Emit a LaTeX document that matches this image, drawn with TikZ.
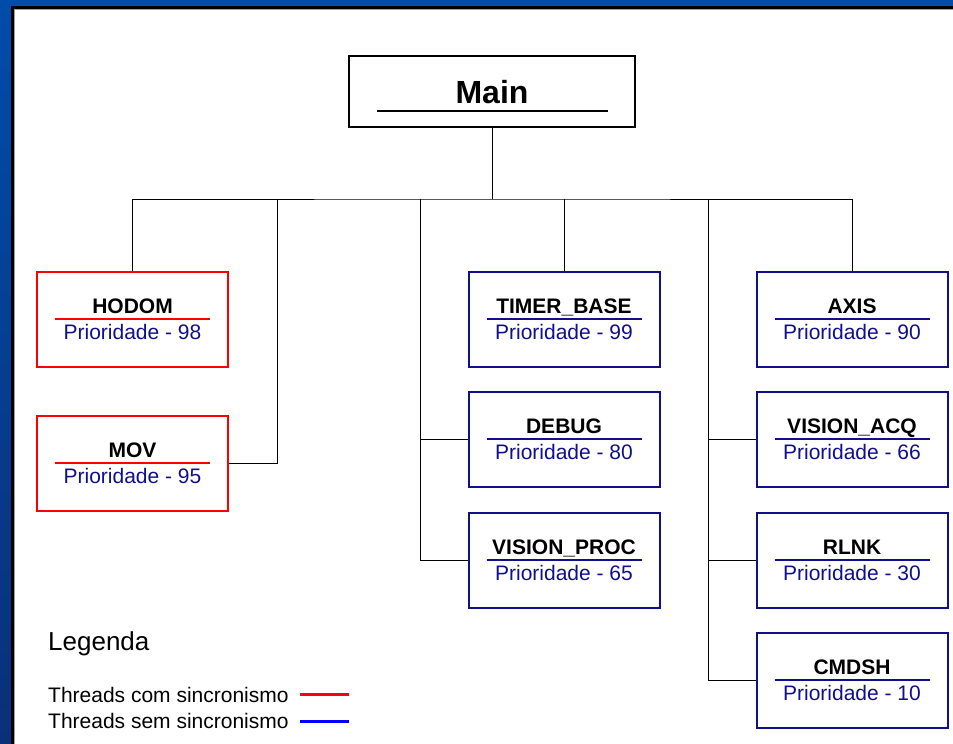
\documentclass[tikz,border=0pt]{standalone}
\usepackage{fontspec}
\setmainfont{Liberation Sans}
\definecolor{slideblue}{RGB}{0,76,170}
\definecolor{slidemid}{RGB}{2,70,158}
\definecolor{slidedark}{RGB}{10,48,120}
\definecolor{navyb}{RGB}{16,16,140}
\definecolor{syncred}{RGB}{255,0,0}
\definecolor{edgegray}{RGB}{160,160,160}
\tikzset{
  threadbox/.style={draw, line width=2pt, minimum width=191pt, minimum height=95pt, inner sep=0pt},
  mainbox/.style={draw=black, line width=2pt, minimum width=286pt, minimum height=71pt, inner sep=0pt},
  ttl/.style={font=\fontsize{21}{24}\selectfont\bfseries, inner sep=0pt, anchor=base},
  prio/.style={font=\fontsize{21}{24}\selectfont, text=navyb, inner sep=0pt, anchor=base},
  legtext/.style={font=\fontsize{21}{24}\selectfont, inner sep=0pt, anchor=base west},
  wire/.style={draw=black, line width=1pt},
}
% thread box: name, x centre, y top, colour, title, priority
\newcommand\tbox[6]{%
  \node[threadbox, draw=#4] (#1) at (#2,#3+48) {};
  \node[ttl] (#1-t) at (#2,#3+42) {#5};
  \draw[#4, line width=2pt] (#2-77.5,#3+48) -- (#2+77.5,#3+48);
  \node[prio] (#1-p) at (#2,#3+68) {Prioridade - #6};
}
\begin{document}
\begin{tikzpicture}[x=1pt,y=-1pt]
  \useasboundingbox (0,0) rectangle (953,744);
  % slide frame
  \fill[white] (0,0) rectangle (953,744);
  \shade[top color=slideblue, middle color=slidemid, bottom color=slidedark] (0,0) rectangle (11,744);
  \fill[slideblue] (0,0) rectangle (953,6);
  \fill[black] (11,6) rectangle (953,9);
  \fill[black] (11,6) rectangle (14,744);
  \fill[edgegray] (14,9) rectangle (953,10);
  \fill[edgegray] (14,9) rectangle (15,744);

  % main task
  \node[mainbox] (main) at (492,91.5) {};
  \node[font=\fontsize{32}{36}\selectfont\bfseries, inner sep=0pt, anchor=base] (main-t) at (492,103) {Main};
  \draw[black, line width=2pt] (377,111) -- (608,111);

  % threads
  \tbox{hodom}{132.5}{271}{syncred}{HODOM}{98}
  \tbox{mov}{132.5}{415}{syncred}{MOV}{95}
  \tbox{tbase}{564}{271}{navyb}{TIMER\_BASE}{99}
  \tbox{debug}{564}{391}{navyb}{DEBUG}{80}
  \tbox{vproc}{564}{512}{navyb}{VISION\_PROC}{65}
  \tbox{axis}{852}{271}{navyb}{AXIS}{90}
  \tbox{vacq}{852}{391}{navyb}{VISION\_ACQ}{66}
  \tbox{rlnk}{852}{512}{navyb}{RLNK}{30}
  \tbox{cmdsh}{852}{632}{navyb}{CMDSH}{10}

  % bus junctions
  \coordinate (bus) at (492,199);
  \coordinate (jmov) at (277,199);
  \coordinate (jmid) at (420,199);
  \coordinate (jright) at (708,199);

  % tree connectors
  \draw[wire] (main.south) -- (bus);
  \draw[wire] (hodom.north) |- (bus) -| (axis.north);
  \draw[wire] (tbase.north) -- (tbase.north |- bus);
  \draw[wire] (mov.east) -| (jmov);
  \draw[wire] (vproc.west) -| (jmid);
  \draw[wire] (debug.west) -- (debug.west -| jmid);
  \draw[wire] (cmdsh.west) -| (jright);
  \draw[wire] (vacq.west) -- (vacq.west -| jright);
  \draw[wire] (rlnk.west) -- (rlnk.west -| jright);

  % legend
  \node[font=\fontsize{26}{30}\selectfont, inner sep=0pt, anchor=base west] (leg) at (48,650) {Legenda};
  \node[legtext] (legsync) at (48,702) {Threads com sincronismo};
  \node[legtext] (legfree) at (48,728) {Threads sem sincronismo};
  \coordinate (rs) at (300,694.5);
  \coordinate (re) at (349,694.5);
  \coordinate (bs) at (300,721.5);
  \coordinate (be) at (349,721.5);
  \draw[syncred, line width=3pt] (rs) -- (re);
  \draw[blue, line width=3pt] (bs) -- (be);
\end{tikzpicture}
\end{document}
